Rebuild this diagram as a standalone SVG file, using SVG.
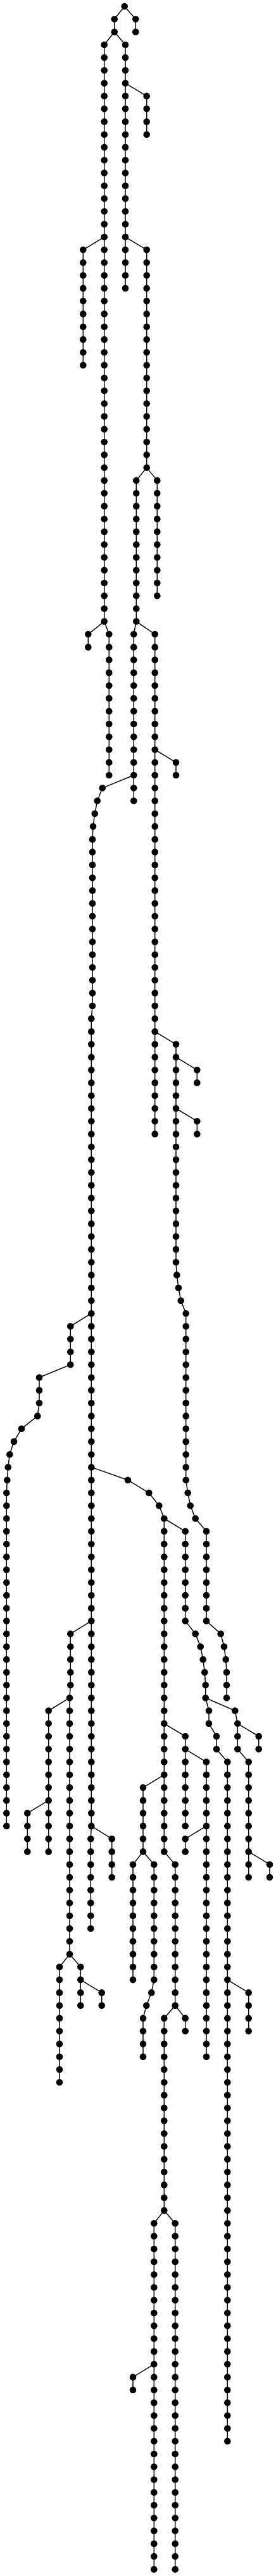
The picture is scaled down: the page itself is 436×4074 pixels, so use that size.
<svg xmlns="http://www.w3.org/2000/svg" width="436" height="4074" viewBox="0 0 436 4074">
<style>
rect.bg{fill:#fff}
.l path{fill:none;stroke:#000;stroke-width:1.5}
.n circle{fill:#000;r:5.3px}
</style>
<rect class="bg" x="0" y="0" width="436" height="4074"/>
<g id="connectors" class="l">
<path d="M196.7 10 L180.7 30.3 V50.5"/>
<path d="M196.7 10 L214.3 30.3 V50.5"/>
<path d="M180.7 50.5 L164.7 70.8 V982.8"/>
<path d="M180.7 50.5 L198 70.8 V455.9"/>
<path d="M198 131.6 L231.7 151.9 V212.7"/>
<path d="M164.7 374.8 L131.3 395.1 V577.5"/>
<path d="M198 374.8 L231.7 395.1 V739.6"/>
<path d="M231.7 739.6 L215.3 759.9 V982.8"/>
<path d="M231.7 739.6 L248.3 759.9 V942.3"/>
<path d="M164.7 982.8 L139.3 1003.1 V1023.4"/>
<path d="M164.7 982.8 L172.3 1003.1 V1226"/>
<path d="M215.3 982.8 L211.3 1003.1 V1266.6"/>
<path d="M215.3 982.8 L244.7 1003.1 V1793.5"/>
<path d="M244.7 1185.5 L278 1205.8 V1226"/>
<path d="M211.3 1226 L161.7 1246.3 L153.7 1266.6 L149.7 1286.8 L147 1307.1 L146 1327.4 V1590.8 L144.3 1611.1 V2887.9 L143.3 2908.2 V3050"/>
<path d="M244.7 1631.4 L278 1651.6 V1996.2 L279.3 2016.4 L282 2036.7 L285.7 2057 L293.7 2077.2 V2340.7 L296.7 2361 L300.7 2381.2 L308.7 2401.5 L326 2421.8 V2563.6 L348.7 2583.9 L354 2604.2 L356.7 2624.4 L358 2644.7 V2685.2"/>
<path d="M278 1671.9 L311.3 1692.2 V1712.4"/>
<path d="M278 1753 L311.3 1773.2 V1793.5"/>
<path d="M144.3 2077.2 L111.3 2097.5 V2158.3 L62 2178.6 V2219.1 L59.3 2239.4 L34 2259.6 L22 2279.9 L15.3 2300.2 L12.7 2320.4 L11.3 2340.7 L10.3 2361 V2887.9"/>
<path d="M144.3 2320.4 L202 2340.7 L235.3 2361 L251.3 2381.2 L259.3 2401.5 V2928.4 L276.7 2948.7 V3171.7"/>
<path d="M259.3 2401.5 L292.7 2421.8 V2563.6 L308.7 2583.9 L316.7 2604.2 L320.7 2624.4 L323.3 2644.7 L324.7 2665 V2685.2 L330 2705.5 V2725.8 L342 2746 V2766.3 L359.3 2786.6 V3860.7"/>
<path d="M324.7 2685.2 L371.3 2705.5 L375.3 2725.8 V2766.3 L392.7 2786.6 V2969"/>
<path d="M375.3 2725.8 L408.7 2746 V2766.3"/>
<path d="M392.7 2928.4 L426 2948.7 V2969"/>
<path d="M359.3 3131.1 L392.7 3151.4 V3212.2"/>
<path d="M259.3 2725.8 L292.7 2746 V2887.9"/>
<path d="M292.7 2766.3 L326 2786.6 V3252.7"/>
<path d="M326 2887.9 L292.7 2908.2 V2928.4"/>
<path d="M259.3 2806.8 L226 2827.1 V2928.4"/>
<path d="M226 2928.4 L210 2948.7 V3131.1"/>
<path d="M226 2928.4 L243.3 2948.7 V3131.1 L239.3 3151.4 L231.3 3171.7 L226 3191.9 V3252.7"/>
<path d="M276.7 3171.7 L259.3 3191.9 V3495.9"/>
<path d="M276.7 3171.7 L292.7 3191.9 V3212.2"/>
<path d="M259.3 3495.9 L243.3 3516.2 V4063.4"/>
<path d="M259.3 3495.9 L276.7 3516.2 V4063.4"/>
<path d="M243.3 3739.1 L210 3759.4 V3779.7"/>
<path d="M144.3 2563.6 L111.3 2583.9 V2665 L110 2685.2 V3090.6"/>
<path d="M110 2685.2 L76.7 2705.5 V2928.4"/>
<path d="M76.7 2847.4 L43.3 2867.6 V2928.4"/>
<path d="M110 3090.6 L94 3110.8 V3293.3"/>
<path d="M110 3090.6 L127.3 3110.8 V3171.7"/>
<path d="M127.3 3131.1 L160.7 3151.4 V3171.7"/>
<path d="M144.3 2887.9 L176.7 2908.2 V2969"/>
</g>
<g id="nodes" class="n">
<g id="R-0"><circle cx="196.7" cy="10"/></g>
<g id="A-1"><circle cx="180.7" cy="30.3"/></g>
<g id="A-2"><circle cx="180.7" cy="50.5"/></g>
<g id="B-1"><circle cx="214.3" cy="30.3"/></g>
<g id="B-2"><circle cx="214.3" cy="50.5"/></g>
<g id="L1-3"><circle cx="164.7" cy="70.8"/></g>
<g id="L1-4"><circle cx="164.7" cy="91.1"/></g>
<g id="L1-5"><circle cx="164.7" cy="111.3"/></g>
<g id="L1-6"><circle cx="164.7" cy="131.6"/></g>
<g id="L1-7"><circle cx="164.7" cy="151.9"/></g>
<g id="L1-8"><circle cx="164.7" cy="172.1"/></g>
<g id="L1-9"><circle cx="164.7" cy="192.4"/></g>
<g id="L1-10"><circle cx="164.7" cy="212.7"/></g>
<g id="L1-11"><circle cx="164.7" cy="232.9"/></g>
<g id="L1-12"><circle cx="164.7" cy="253.2"/></g>
<g id="L1-13"><circle cx="164.7" cy="273.5"/></g>
<g id="L1-14"><circle cx="164.7" cy="293.7"/></g>
<g id="L1-15"><circle cx="164.7" cy="314"/></g>
<g id="L1-16"><circle cx="164.7" cy="334.3"/></g>
<g id="L1-17"><circle cx="164.7" cy="354.5"/></g>
<g id="L1-18"><circle cx="164.7" cy="374.8"/></g>
<g id="L1-19"><circle cx="164.7" cy="395.1"/></g>
<g id="L1-20"><circle cx="164.7" cy="415.3"/></g>
<g id="L1-21"><circle cx="164.7" cy="435.6"/></g>
<g id="L1-22"><circle cx="164.7" cy="455.9"/></g>
<g id="L1-23"><circle cx="164.7" cy="476.1"/></g>
<g id="L1-24"><circle cx="164.7" cy="496.4"/></g>
<g id="L1-25"><circle cx="164.7" cy="516.7"/></g>
<g id="L1-26"><circle cx="164.7" cy="536.9"/></g>
<g id="L1-27"><circle cx="164.7" cy="557.2"/></g>
<g id="L1-28"><circle cx="164.7" cy="577.5"/></g>
<g id="L1-29"><circle cx="164.7" cy="597.7"/></g>
<g id="L1-30"><circle cx="164.7" cy="618"/></g>
<g id="L1-31"><circle cx="164.7" cy="638.3"/></g>
<g id="L1-32"><circle cx="164.7" cy="658.5"/></g>
<g id="L1-33"><circle cx="164.7" cy="678.8"/></g>
<g id="L1-34"><circle cx="164.7" cy="699.1"/></g>
<g id="L1-35"><circle cx="164.7" cy="719.3"/></g>
<g id="L1-36"><circle cx="164.7" cy="739.6"/></g>
<g id="L1-37"><circle cx="164.7" cy="759.9"/></g>
<g id="L1-38"><circle cx="164.7" cy="780.1"/></g>
<g id="L1-39"><circle cx="164.7" cy="800.4"/></g>
<g id="L1-40"><circle cx="164.7" cy="820.7"/></g>
<g id="L1-41"><circle cx="164.7" cy="840.9"/></g>
<g id="L1-42"><circle cx="164.7" cy="861.2"/></g>
<g id="L1-43"><circle cx="164.7" cy="881.5"/></g>
<g id="L1-44"><circle cx="164.7" cy="901.7"/></g>
<g id="L1-45"><circle cx="164.7" cy="922"/></g>
<g id="L1-46"><circle cx="164.7" cy="942.3"/></g>
<g id="L1-47"><circle cx="164.7" cy="962.5"/></g>
<g id="L1-48"><circle cx="164.7" cy="982.8"/></g>
<g id="C1-3"><circle cx="198" cy="70.8"/></g>
<g id="C1-4"><circle cx="198" cy="91.1"/></g>
<g id="C1-5"><circle cx="198" cy="111.3"/></g>
<g id="C1-6"><circle cx="198" cy="131.6"/></g>
<g id="C1-7"><circle cx="198" cy="151.9"/></g>
<g id="C1-8"><circle cx="198" cy="172.1"/></g>
<g id="C1-9"><circle cx="198" cy="192.4"/></g>
<g id="C1-10"><circle cx="198" cy="212.7"/></g>
<g id="C1-11"><circle cx="198" cy="232.9"/></g>
<g id="C1-12"><circle cx="198" cy="253.2"/></g>
<g id="C1-13"><circle cx="198" cy="273.5"/></g>
<g id="C1-14"><circle cx="198" cy="293.7"/></g>
<g id="C1-15"><circle cx="198" cy="314"/></g>
<g id="C1-16"><circle cx="198" cy="334.3"/></g>
<g id="C1-17"><circle cx="198" cy="354.5"/></g>
<g id="C1-18"><circle cx="198" cy="374.8"/></g>
<g id="C1-19"><circle cx="198" cy="395.1"/></g>
<g id="C1-20"><circle cx="198" cy="415.3"/></g>
<g id="C1-21"><circle cx="198" cy="435.6"/></g>
<g id="C1-22"><circle cx="198" cy="455.9"/></g>
<g id="C1a-7"><circle cx="231.7" cy="151.9"/></g>
<g id="C1a-8"><circle cx="231.7" cy="172.1"/></g>
<g id="C1a-9"><circle cx="231.7" cy="192.4"/></g>
<g id="C1a-10"><circle cx="231.7" cy="212.7"/></g>
<g id="L1a-19"><circle cx="131.3" cy="395.1"/></g>
<g id="L1a-20"><circle cx="131.3" cy="415.3"/></g>
<g id="L1a-21"><circle cx="131.3" cy="435.6"/></g>
<g id="L1a-22"><circle cx="131.3" cy="455.9"/></g>
<g id="L1a-23"><circle cx="131.3" cy="476.1"/></g>
<g id="L1a-24"><circle cx="131.3" cy="496.4"/></g>
<g id="L1a-25"><circle cx="131.3" cy="516.7"/></g>
<g id="L1a-26"><circle cx="131.3" cy="536.9"/></g>
<g id="L1a-27"><circle cx="131.3" cy="557.2"/></g>
<g id="L1a-28"><circle cx="131.3" cy="577.5"/></g>
<g id="C2-19"><circle cx="231.7" cy="395.1"/></g>
<g id="C2-20"><circle cx="231.7" cy="415.3"/></g>
<g id="C2-21"><circle cx="231.7" cy="435.6"/></g>
<g id="C2-22"><circle cx="231.7" cy="455.9"/></g>
<g id="C2-23"><circle cx="231.7" cy="476.1"/></g>
<g id="C2-24"><circle cx="231.7" cy="496.4"/></g>
<g id="C2-25"><circle cx="231.7" cy="516.7"/></g>
<g id="C2-26"><circle cx="231.7" cy="536.9"/></g>
<g id="C2-27"><circle cx="231.7" cy="557.2"/></g>
<g id="C2-28"><circle cx="231.7" cy="577.5"/></g>
<g id="C2-29"><circle cx="231.7" cy="597.7"/></g>
<g id="C2-30"><circle cx="231.7" cy="618"/></g>
<g id="C2-31"><circle cx="231.7" cy="638.3"/></g>
<g id="C2-32"><circle cx="231.7" cy="658.5"/></g>
<g id="C2-33"><circle cx="231.7" cy="678.8"/></g>
<g id="C2-34"><circle cx="231.7" cy="699.1"/></g>
<g id="C2-35"><circle cx="231.7" cy="719.3"/></g>
<g id="C2-36"><circle cx="231.7" cy="739.6"/></g>
<g id="D1-37"><circle cx="215.3" cy="759.9"/></g>
<g id="D1-38"><circle cx="215.3" cy="780.1"/></g>
<g id="D1-39"><circle cx="215.3" cy="800.4"/></g>
<g id="D1-40"><circle cx="215.3" cy="820.7"/></g>
<g id="D1-41"><circle cx="215.3" cy="840.9"/></g>
<g id="D1-42"><circle cx="215.3" cy="861.2"/></g>
<g id="D1-43"><circle cx="215.3" cy="881.5"/></g>
<g id="D1-44"><circle cx="215.3" cy="901.7"/></g>
<g id="D1-45"><circle cx="215.3" cy="922"/></g>
<g id="D1-46"><circle cx="215.3" cy="942.3"/></g>
<g id="D1-47"><circle cx="215.3" cy="962.5"/></g>
<g id="D1-48"><circle cx="215.3" cy="982.8"/></g>
<g id="D2-37"><circle cx="248.3" cy="759.9"/></g>
<g id="D2-38"><circle cx="248.3" cy="780.1"/></g>
<g id="D2-39"><circle cx="248.3" cy="800.4"/></g>
<g id="D2-40"><circle cx="248.3" cy="820.7"/></g>
<g id="D2-41"><circle cx="248.3" cy="840.9"/></g>
<g id="D2-42"><circle cx="248.3" cy="861.2"/></g>
<g id="D2-43"><circle cx="248.3" cy="881.5"/></g>
<g id="D2-44"><circle cx="248.3" cy="901.7"/></g>
<g id="D2-45"><circle cx="248.3" cy="922"/></g>
<g id="D2-46"><circle cx="248.3" cy="942.3"/></g>
<g id="E1-49"><circle cx="139.3" cy="1003.1"/></g>
<g id="E1-50"><circle cx="139.3" cy="1023.4"/></g>
<g id="E2-49"><circle cx="172.3" cy="1003.1"/></g>
<g id="E2-50"><circle cx="172.3" cy="1023.4"/></g>
<g id="E2-51"><circle cx="172.3" cy="1043.6"/></g>
<g id="E2-52"><circle cx="172.3" cy="1063.9"/></g>
<g id="E2-53"><circle cx="172.3" cy="1084.2"/></g>
<g id="E2-54"><circle cx="172.3" cy="1104.4"/></g>
<g id="E2-55"><circle cx="172.3" cy="1124.7"/></g>
<g id="E2-56"><circle cx="172.3" cy="1145"/></g>
<g id="E2-57"><circle cx="172.3" cy="1165.2"/></g>
<g id="E2-58"><circle cx="172.3" cy="1185.5"/></g>
<g id="E2-59"><circle cx="172.3" cy="1205.8"/></g>
<g id="E2-60"><circle cx="172.3" cy="1226"/></g>
<g id="F1-49"><circle cx="211.3" cy="1003.1"/></g>
<g id="F1-50"><circle cx="211.3" cy="1023.4"/></g>
<g id="F1-51"><circle cx="211.3" cy="1043.6"/></g>
<g id="F1-52"><circle cx="211.3" cy="1063.9"/></g>
<g id="F1-53"><circle cx="211.3" cy="1084.2"/></g>
<g id="F1-54"><circle cx="211.3" cy="1104.4"/></g>
<g id="F1-55"><circle cx="211.3" cy="1124.7"/></g>
<g id="F1-56"><circle cx="211.3" cy="1145"/></g>
<g id="F1-57"><circle cx="211.3" cy="1165.2"/></g>
<g id="F1-58"><circle cx="211.3" cy="1185.5"/></g>
<g id="F1-59"><circle cx="211.3" cy="1205.8"/></g>
<g id="F1-60"><circle cx="211.3" cy="1226"/></g>
<g id="F1-61"><circle cx="211.3" cy="1246.3"/></g>
<g id="F1-62"><circle cx="211.3" cy="1266.6"/></g>
<g id="F2-49"><circle cx="244.7" cy="1003.1"/></g>
<g id="F2-50"><circle cx="244.7" cy="1023.4"/></g>
<g id="F2-51"><circle cx="244.7" cy="1043.6"/></g>
<g id="F2-52"><circle cx="244.7" cy="1063.9"/></g>
<g id="F2-53"><circle cx="244.7" cy="1084.2"/></g>
<g id="F2-54"><circle cx="244.7" cy="1104.4"/></g>
<g id="F2-55"><circle cx="244.7" cy="1124.7"/></g>
<g id="F2-56"><circle cx="244.7" cy="1145"/></g>
<g id="F2-57"><circle cx="244.7" cy="1165.2"/></g>
<g id="F2-58"><circle cx="244.7" cy="1185.5"/></g>
<g id="F2-59"><circle cx="244.7" cy="1205.8"/></g>
<g id="F2-60"><circle cx="244.7" cy="1226"/></g>
<g id="F2-61"><circle cx="244.7" cy="1246.3"/></g>
<g id="F2-62"><circle cx="244.7" cy="1266.6"/></g>
<g id="F2-63"><circle cx="244.7" cy="1286.8"/></g>
<g id="F2-64"><circle cx="244.7" cy="1307.1"/></g>
<g id="F2-65"><circle cx="244.7" cy="1327.4"/></g>
<g id="F2-66"><circle cx="244.7" cy="1347.6"/></g>
<g id="F2-67"><circle cx="244.7" cy="1367.9"/></g>
<g id="F2-68"><circle cx="244.7" cy="1388.2"/></g>
<g id="F2-69"><circle cx="244.7" cy="1408.4"/></g>
<g id="F2-70"><circle cx="244.7" cy="1428.7"/></g>
<g id="F2-71"><circle cx="244.7" cy="1449"/></g>
<g id="F2-72"><circle cx="244.7" cy="1469.2"/></g>
<g id="F2-73"><circle cx="244.7" cy="1489.5"/></g>
<g id="F2-74"><circle cx="244.7" cy="1509.8"/></g>
<g id="F2-75"><circle cx="244.7" cy="1530"/></g>
<g id="F2-76"><circle cx="244.7" cy="1550.3"/></g>
<g id="F2-77"><circle cx="244.7" cy="1570.6"/></g>
<g id="F2-78"><circle cx="244.7" cy="1590.8"/></g>
<g id="F2-79"><circle cx="244.7" cy="1611.1"/></g>
<g id="F2-80"><circle cx="244.7" cy="1631.4"/></g>
<g id="F2-81"><circle cx="244.7" cy="1651.6"/></g>
<g id="F2-82"><circle cx="244.7" cy="1671.9"/></g>
<g id="F2-83"><circle cx="244.7" cy="1692.2"/></g>
<g id="F2-84"><circle cx="244.7" cy="1712.4"/></g>
<g id="F2-85"><circle cx="244.7" cy="1732.7"/></g>
<g id="F2-86"><circle cx="244.7" cy="1753"/></g>
<g id="F2-87"><circle cx="244.7" cy="1773.2"/></g>
<g id="F2-88"><circle cx="244.7" cy="1793.5"/></g>
<g id="F2a-59"><circle cx="278" cy="1205.8"/></g>
<g id="F2a-60"><circle cx="278" cy="1226"/></g>
<g id="G-61"><circle cx="161.7" cy="1246.3"/></g>
<g id="G-62"><circle cx="153.7" cy="1266.6"/></g>
<g id="G-63"><circle cx="149.7" cy="1286.8"/></g>
<g id="G-64"><circle cx="147" cy="1307.1"/></g>
<g id="G-65"><circle cx="146" cy="1327.4"/></g>
<g id="G-66"><circle cx="146" cy="1347.6"/></g>
<g id="G-67"><circle cx="146" cy="1367.9"/></g>
<g id="G-68"><circle cx="146" cy="1388.2"/></g>
<g id="G-69"><circle cx="146" cy="1408.4"/></g>
<g id="G-70"><circle cx="146" cy="1428.7"/></g>
<g id="G-71"><circle cx="146" cy="1449"/></g>
<g id="G-72"><circle cx="146" cy="1469.2"/></g>
<g id="G-73"><circle cx="146" cy="1489.5"/></g>
<g id="G-74"><circle cx="146" cy="1509.8"/></g>
<g id="G-75"><circle cx="146" cy="1530"/></g>
<g id="G-76"><circle cx="146" cy="1550.3"/></g>
<g id="G-77"><circle cx="146" cy="1570.6"/></g>
<g id="G-78"><circle cx="146" cy="1590.8"/></g>
<g id="G-79"><circle cx="144.3" cy="1611.1"/></g>
<g id="G-80"><circle cx="144.3" cy="1631.4"/></g>
<g id="G-81"><circle cx="144.3" cy="1651.6"/></g>
<g id="G-82"><circle cx="144.3" cy="1671.9"/></g>
<g id="G-83"><circle cx="144.3" cy="1692.2"/></g>
<g id="G-84"><circle cx="144.3" cy="1712.4"/></g>
<g id="G-85"><circle cx="144.3" cy="1732.7"/></g>
<g id="G-86"><circle cx="144.3" cy="1753"/></g>
<g id="G-87"><circle cx="144.3" cy="1773.2"/></g>
<g id="G-88"><circle cx="144.3" cy="1793.5"/></g>
<g id="G-89"><circle cx="144.3" cy="1813.8"/></g>
<g id="G-90"><circle cx="144.3" cy="1834"/></g>
<g id="G-91"><circle cx="144.3" cy="1854.3"/></g>
<g id="G-92"><circle cx="144.3" cy="1874.6"/></g>
<g id="G-93"><circle cx="144.3" cy="1894.8"/></g>
<g id="G-94"><circle cx="144.3" cy="1915.1"/></g>
<g id="G-95"><circle cx="144.3" cy="1935.4"/></g>
<g id="G-96"><circle cx="144.3" cy="1955.6"/></g>
<g id="G-97"><circle cx="144.3" cy="1975.9"/></g>
<g id="G-98"><circle cx="144.3" cy="1996.2"/></g>
<g id="G-99"><circle cx="144.3" cy="2016.4"/></g>
<g id="G-100"><circle cx="144.3" cy="2036.7"/></g>
<g id="G-101"><circle cx="144.3" cy="2057"/></g>
<g id="G-102"><circle cx="144.3" cy="2077.2"/></g>
<g id="G-103"><circle cx="144.3" cy="2097.5"/></g>
<g id="G-104"><circle cx="144.3" cy="2117.8"/></g>
<g id="G-105"><circle cx="144.3" cy="2138"/></g>
<g id="G-106"><circle cx="144.3" cy="2158.3"/></g>
<g id="G-107"><circle cx="144.3" cy="2178.6"/></g>
<g id="G-108"><circle cx="144.3" cy="2198.8"/></g>
<g id="G-109"><circle cx="144.3" cy="2219.1"/></g>
<g id="G-110"><circle cx="144.3" cy="2239.4"/></g>
<g id="G-111"><circle cx="144.3" cy="2259.6"/></g>
<g id="G-112"><circle cx="144.3" cy="2279.9"/></g>
<g id="G-113"><circle cx="144.3" cy="2300.2"/></g>
<g id="G-114"><circle cx="144.3" cy="2320.4"/></g>
<g id="G-115"><circle cx="144.3" cy="2340.7"/></g>
<g id="G-116"><circle cx="144.3" cy="2361"/></g>
<g id="G-117"><circle cx="144.3" cy="2381.2"/></g>
<g id="G-118"><circle cx="144.3" cy="2401.5"/></g>
<g id="G-119"><circle cx="144.3" cy="2421.8"/></g>
<g id="G-120"><circle cx="144.3" cy="2442"/></g>
<g id="G-121"><circle cx="144.3" cy="2462.3"/></g>
<g id="G-122"><circle cx="144.3" cy="2482.6"/></g>
<g id="G-123"><circle cx="144.3" cy="2502.8"/></g>
<g id="G-124"><circle cx="144.3" cy="2523.1"/></g>
<g id="G-125"><circle cx="144.3" cy="2543.4"/></g>
<g id="G-126"><circle cx="144.3" cy="2563.6"/></g>
<g id="G-127"><circle cx="144.3" cy="2583.9"/></g>
<g id="G-128"><circle cx="144.3" cy="2604.2"/></g>
<g id="G-129"><circle cx="144.3" cy="2624.4"/></g>
<g id="G-130"><circle cx="144.3" cy="2644.7"/></g>
<g id="G-131"><circle cx="144.3" cy="2665"/></g>
<g id="G-132"><circle cx="144.3" cy="2685.2"/></g>
<g id="G-133"><circle cx="144.3" cy="2705.5"/></g>
<g id="G-134"><circle cx="144.3" cy="2725.8"/></g>
<g id="G-135"><circle cx="144.3" cy="2746"/></g>
<g id="G-136"><circle cx="144.3" cy="2766.3"/></g>
<g id="G-137"><circle cx="144.3" cy="2786.6"/></g>
<g id="G-138"><circle cx="144.3" cy="2806.8"/></g>
<g id="G-139"><circle cx="144.3" cy="2827.1"/></g>
<g id="G-140"><circle cx="144.3" cy="2847.4"/></g>
<g id="G-141"><circle cx="144.3" cy="2867.6"/></g>
<g id="G-142"><circle cx="144.3" cy="2887.9"/></g>
<g id="G-143"><circle cx="143.3" cy="2908.2"/></g>
<g id="G-144"><circle cx="143.3" cy="2928.4"/></g>
<g id="G-145"><circle cx="143.3" cy="2948.7"/></g>
<g id="G-146"><circle cx="143.3" cy="2969"/></g>
<g id="G-147"><circle cx="143.3" cy="2989.2"/></g>
<g id="G-148"><circle cx="143.3" cy="3009.5"/></g>
<g id="G-149"><circle cx="143.3" cy="3029.8"/></g>
<g id="G-150"><circle cx="143.3" cy="3050"/></g>
<g id="F2b-81"><circle cx="278" cy="1651.6"/></g>
<g id="F2b-82"><circle cx="278" cy="1671.9"/></g>
<g id="F2b-83"><circle cx="278" cy="1692.2"/></g>
<g id="F2b-84"><circle cx="278" cy="1712.4"/></g>
<g id="F2b-85"><circle cx="278" cy="1732.7"/></g>
<g id="F2b-86"><circle cx="278" cy="1753"/></g>
<g id="F2b-87"><circle cx="278" cy="1773.2"/></g>
<g id="F2b-88"><circle cx="278" cy="1793.5"/></g>
<g id="F2b-89"><circle cx="278" cy="1813.8"/></g>
<g id="F2b-90"><circle cx="278" cy="1834"/></g>
<g id="F2b-91"><circle cx="278" cy="1854.3"/></g>
<g id="F2b-92"><circle cx="278" cy="1874.6"/></g>
<g id="F2b-93"><circle cx="278" cy="1894.8"/></g>
<g id="F2b-94"><circle cx="278" cy="1915.1"/></g>
<g id="F2b-95"><circle cx="278" cy="1935.4"/></g>
<g id="F2b-96"><circle cx="278" cy="1955.6"/></g>
<g id="F2b-97"><circle cx="278" cy="1975.9"/></g>
<g id="F2b-98"><circle cx="278" cy="1996.2"/></g>
<g id="F2b-99"><circle cx="279.3" cy="2016.4"/></g>
<g id="F2b-100"><circle cx="282" cy="2036.7"/></g>
<g id="F2b-101"><circle cx="285.7" cy="2057"/></g>
<g id="F2b-102"><circle cx="293.7" cy="2077.2"/></g>
<g id="F2b-103"><circle cx="293.7" cy="2097.5"/></g>
<g id="F2b-104"><circle cx="293.7" cy="2117.8"/></g>
<g id="F2b-105"><circle cx="293.7" cy="2138"/></g>
<g id="F2b-106"><circle cx="293.7" cy="2158.3"/></g>
<g id="F2b-107"><circle cx="293.7" cy="2178.6"/></g>
<g id="F2b-108"><circle cx="293.7" cy="2198.8"/></g>
<g id="F2b-109"><circle cx="293.7" cy="2219.1"/></g>
<g id="F2b-110"><circle cx="293.7" cy="2239.4"/></g>
<g id="F2b-111"><circle cx="293.7" cy="2259.6"/></g>
<g id="F2b-112"><circle cx="293.7" cy="2279.9"/></g>
<g id="F2b-113"><circle cx="293.7" cy="2300.2"/></g>
<g id="F2b-114"><circle cx="293.7" cy="2320.4"/></g>
<g id="F2b-115"><circle cx="293.7" cy="2340.7"/></g>
<g id="F2b-116"><circle cx="296.7" cy="2361"/></g>
<g id="F2b-117"><circle cx="300.7" cy="2381.2"/></g>
<g id="F2b-118"><circle cx="308.7" cy="2401.5"/></g>
<g id="F2b-119"><circle cx="326" cy="2421.8"/></g>
<g id="F2b-120"><circle cx="326" cy="2442"/></g>
<g id="F2b-121"><circle cx="326" cy="2462.3"/></g>
<g id="F2b-122"><circle cx="326" cy="2482.6"/></g>
<g id="F2b-123"><circle cx="326" cy="2502.8"/></g>
<g id="F2b-124"><circle cx="326" cy="2523.1"/></g>
<g id="F2b-125"><circle cx="326" cy="2543.4"/></g>
<g id="F2b-126"><circle cx="326" cy="2563.6"/></g>
<g id="F2b-127"><circle cx="348.7" cy="2583.9"/></g>
<g id="F2b-128"><circle cx="354" cy="2604.2"/></g>
<g id="F2b-129"><circle cx="356.7" cy="2624.4"/></g>
<g id="F2b-130"><circle cx="358" cy="2644.7"/></g>
<g id="F2b-131"><circle cx="358" cy="2665"/></g>
<g id="F2b-132"><circle cx="358" cy="2685.2"/></g>
<g id="F2c-83"><circle cx="311.3" cy="1692.2"/></g>
<g id="F2c-84"><circle cx="311.3" cy="1712.4"/></g>
<g id="F2d-87"><circle cx="311.3" cy="1773.2"/></g>
<g id="F2d-88"><circle cx="311.3" cy="1793.5"/></g>
<g id="H-103"><circle cx="111.3" cy="2097.5"/></g>
<g id="H-104"><circle cx="111.3" cy="2117.8"/></g>
<g id="H-105"><circle cx="111.3" cy="2138"/></g>
<g id="H-106"><circle cx="111.3" cy="2158.3"/></g>
<g id="H-107"><circle cx="62" cy="2178.6"/></g>
<g id="H-108"><circle cx="62" cy="2198.8"/></g>
<g id="H-109"><circle cx="62" cy="2219.1"/></g>
<g id="H-110"><circle cx="59.3" cy="2239.4"/></g>
<g id="H-111"><circle cx="34" cy="2259.6"/></g>
<g id="H-112"><circle cx="22" cy="2279.9"/></g>
<g id="H-113"><circle cx="15.3" cy="2300.2"/></g>
<g id="H-114"><circle cx="12.7" cy="2320.4"/></g>
<g id="H-115"><circle cx="11.3" cy="2340.7"/></g>
<g id="H-116"><circle cx="10.3" cy="2361"/></g>
<g id="H-117"><circle cx="10.3" cy="2381.2"/></g>
<g id="H-118"><circle cx="10.3" cy="2401.5"/></g>
<g id="H-119"><circle cx="10.3" cy="2421.8"/></g>
<g id="H-120"><circle cx="10.3" cy="2442"/></g>
<g id="H-121"><circle cx="10.3" cy="2462.3"/></g>
<g id="H-122"><circle cx="10.3" cy="2482.6"/></g>
<g id="H-123"><circle cx="10.3" cy="2502.8"/></g>
<g id="H-124"><circle cx="10.3" cy="2523.1"/></g>
<g id="H-125"><circle cx="10.3" cy="2543.4"/></g>
<g id="H-126"><circle cx="10.3" cy="2563.6"/></g>
<g id="H-127"><circle cx="10.3" cy="2583.9"/></g>
<g id="H-128"><circle cx="10.3" cy="2604.2"/></g>
<g id="H-129"><circle cx="10.3" cy="2624.4"/></g>
<g id="H-130"><circle cx="10.3" cy="2644.7"/></g>
<g id="H-131"><circle cx="10.3" cy="2665"/></g>
<g id="H-132"><circle cx="10.3" cy="2685.2"/></g>
<g id="H-133"><circle cx="10.3" cy="2705.5"/></g>
<g id="H-134"><circle cx="10.3" cy="2725.8"/></g>
<g id="H-135"><circle cx="10.3" cy="2746"/></g>
<g id="H-136"><circle cx="10.3" cy="2766.3"/></g>
<g id="H-137"><circle cx="10.3" cy="2786.6"/></g>
<g id="H-138"><circle cx="10.3" cy="2806.8"/></g>
<g id="H-139"><circle cx="10.3" cy="2827.1"/></g>
<g id="H-140"><circle cx="10.3" cy="2847.4"/></g>
<g id="H-141"><circle cx="10.3" cy="2867.6"/></g>
<g id="H-142"><circle cx="10.3" cy="2887.9"/></g>
<g id="I-115"><circle cx="202" cy="2340.7"/></g>
<g id="I-116"><circle cx="235.3" cy="2361"/></g>
<g id="I-117"><circle cx="251.3" cy="2381.2"/></g>
<g id="I-118"><circle cx="259.3" cy="2401.5"/></g>
<g id="I-119"><circle cx="259.3" cy="2421.8"/></g>
<g id="I-120"><circle cx="259.3" cy="2442"/></g>
<g id="I-121"><circle cx="259.3" cy="2462.3"/></g>
<g id="I-122"><circle cx="259.3" cy="2482.6"/></g>
<g id="I-123"><circle cx="259.3" cy="2502.8"/></g>
<g id="I-124"><circle cx="259.3" cy="2523.1"/></g>
<g id="I-125"><circle cx="259.3" cy="2543.4"/></g>
<g id="I-126"><circle cx="259.3" cy="2563.6"/></g>
<g id="I-127"><circle cx="259.3" cy="2583.9"/></g>
<g id="I-128"><circle cx="259.3" cy="2604.2"/></g>
<g id="I-129"><circle cx="259.3" cy="2624.4"/></g>
<g id="I-130"><circle cx="259.3" cy="2644.7"/></g>
<g id="I-131"><circle cx="259.3" cy="2665"/></g>
<g id="I-132"><circle cx="259.3" cy="2685.2"/></g>
<g id="I-133"><circle cx="259.3" cy="2705.5"/></g>
<g id="I-134"><circle cx="259.3" cy="2725.8"/></g>
<g id="I-135"><circle cx="259.3" cy="2746"/></g>
<g id="I-136"><circle cx="259.3" cy="2766.3"/></g>
<g id="I-137"><circle cx="259.3" cy="2786.6"/></g>
<g id="I-138"><circle cx="259.3" cy="2806.8"/></g>
<g id="I-139"><circle cx="259.3" cy="2827.1"/></g>
<g id="I-140"><circle cx="259.3" cy="2847.4"/></g>
<g id="I-141"><circle cx="259.3" cy="2867.6"/></g>
<g id="I-142"><circle cx="259.3" cy="2887.9"/></g>
<g id="I-143"><circle cx="259.3" cy="2908.2"/></g>
<g id="I-144"><circle cx="259.3" cy="2928.4"/></g>
<g id="I-145"><circle cx="276.7" cy="2948.7"/></g>
<g id="I-146"><circle cx="276.7" cy="2969"/></g>
<g id="I-147"><circle cx="276.7" cy="2989.2"/></g>
<g id="I-148"><circle cx="276.7" cy="3009.5"/></g>
<g id="I-149"><circle cx="276.7" cy="3029.8"/></g>
<g id="I-150"><circle cx="276.7" cy="3050"/></g>
<g id="I-151"><circle cx="276.7" cy="3070.3"/></g>
<g id="I-152"><circle cx="276.7" cy="3090.6"/></g>
<g id="I-153"><circle cx="276.7" cy="3110.8"/></g>
<g id="I-154"><circle cx="276.7" cy="3131.1"/></g>
<g id="I-155"><circle cx="276.7" cy="3151.4"/></g>
<g id="I-156"><circle cx="276.7" cy="3171.7"/></g>
<g id="I1-119"><circle cx="292.7" cy="2421.8"/></g>
<g id="I1-120"><circle cx="292.7" cy="2442"/></g>
<g id="I1-121"><circle cx="292.7" cy="2462.3"/></g>
<g id="I1-122"><circle cx="292.7" cy="2482.6"/></g>
<g id="I1-123"><circle cx="292.7" cy="2502.8"/></g>
<g id="I1-124"><circle cx="292.7" cy="2523.1"/></g>
<g id="I1-125"><circle cx="292.7" cy="2543.4"/></g>
<g id="I1-126"><circle cx="292.7" cy="2563.6"/></g>
<g id="I1-127"><circle cx="308.7" cy="2583.9"/></g>
<g id="I1-128"><circle cx="316.7" cy="2604.2"/></g>
<g id="I1-129"><circle cx="320.7" cy="2624.4"/></g>
<g id="I1-130"><circle cx="323.3" cy="2644.7"/></g>
<g id="I1-131"><circle cx="324.7" cy="2665"/></g>
<g id="I1-132"><circle cx="324.7" cy="2685.2"/></g>
<g id="I1-133"><circle cx="330" cy="2705.5"/></g>
<g id="I1-134"><circle cx="330" cy="2725.8"/></g>
<g id="I1-135"><circle cx="342" cy="2746"/></g>
<g id="I1-136"><circle cx="342" cy="2766.3"/></g>
<g id="I1-137"><circle cx="359.3" cy="2786.6"/></g>
<g id="I1-138"><circle cx="359.3" cy="2806.8"/></g>
<g id="I1-139"><circle cx="359.3" cy="2827.1"/></g>
<g id="I1-140"><circle cx="359.3" cy="2847.4"/></g>
<g id="I1-141"><circle cx="359.3" cy="2867.6"/></g>
<g id="I1-142"><circle cx="359.3" cy="2887.9"/></g>
<g id="I1-143"><circle cx="359.3" cy="2908.2"/></g>
<g id="I1-144"><circle cx="359.3" cy="2928.4"/></g>
<g id="I1-145"><circle cx="359.3" cy="2948.7"/></g>
<g id="I1-146"><circle cx="359.3" cy="2969"/></g>
<g id="I1-147"><circle cx="359.3" cy="2989.2"/></g>
<g id="I1-148"><circle cx="359.3" cy="3009.5"/></g>
<g id="I1-149"><circle cx="359.3" cy="3029.8"/></g>
<g id="I1-150"><circle cx="359.3" cy="3050"/></g>
<g id="I1-151"><circle cx="359.3" cy="3070.3"/></g>
<g id="I1-152"><circle cx="359.3" cy="3090.6"/></g>
<g id="I1-153"><circle cx="359.3" cy="3110.8"/></g>
<g id="I1-154"><circle cx="359.3" cy="3131.1"/></g>
<g id="I1-155"><circle cx="359.3" cy="3151.4"/></g>
<g id="I1-156"><circle cx="359.3" cy="3171.7"/></g>
<g id="I1-157"><circle cx="359.3" cy="3191.9"/></g>
<g id="I1-158"><circle cx="359.3" cy="3212.2"/></g>
<g id="I1-159"><circle cx="359.3" cy="3232.5"/></g>
<g id="I1-160"><circle cx="359.3" cy="3252.7"/></g>
<g id="I1-161"><circle cx="359.3" cy="3273"/></g>
<g id="I1-162"><circle cx="359.3" cy="3293.3"/></g>
<g id="I1-163"><circle cx="359.3" cy="3313.5"/></g>
<g id="I1-164"><circle cx="359.3" cy="3333.8"/></g>
<g id="I1-165"><circle cx="359.3" cy="3354.1"/></g>
<g id="I1-166"><circle cx="359.3" cy="3374.3"/></g>
<g id="I1-167"><circle cx="359.3" cy="3394.6"/></g>
<g id="I1-168"><circle cx="359.3" cy="3414.9"/></g>
<g id="I1-169"><circle cx="359.3" cy="3435.1"/></g>
<g id="I1-170"><circle cx="359.3" cy="3455.4"/></g>
<g id="I1-171"><circle cx="359.3" cy="3475.7"/></g>
<g id="I1-172"><circle cx="359.3" cy="3495.9"/></g>
<g id="I1-173"><circle cx="359.3" cy="3516.2"/></g>
<g id="I1-174"><circle cx="359.3" cy="3536.5"/></g>
<g id="I1-175"><circle cx="359.3" cy="3556.7"/></g>
<g id="I1-176"><circle cx="359.3" cy="3577"/></g>
<g id="I1-177"><circle cx="359.3" cy="3597.3"/></g>
<g id="I1-178"><circle cx="359.3" cy="3617.5"/></g>
<g id="I1-179"><circle cx="359.3" cy="3637.8"/></g>
<g id="I1-180"><circle cx="359.3" cy="3658.1"/></g>
<g id="I1-181"><circle cx="359.3" cy="3678.3"/></g>
<g id="I1-182"><circle cx="359.3" cy="3698.6"/></g>
<g id="I1-183"><circle cx="359.3" cy="3718.9"/></g>
<g id="I1-184"><circle cx="359.3" cy="3739.1"/></g>
<g id="I1-185"><circle cx="359.3" cy="3759.4"/></g>
<g id="I1-186"><circle cx="359.3" cy="3779.7"/></g>
<g id="I1-187"><circle cx="359.3" cy="3799.9"/></g>
<g id="I1-188"><circle cx="359.3" cy="3820.2"/></g>
<g id="I1-189"><circle cx="359.3" cy="3840.5"/></g>
<g id="I1-190"><circle cx="359.3" cy="3860.7"/></g>
<g id="I1b-133"><circle cx="371.3" cy="2705.5"/></g>
<g id="I1b-134"><circle cx="375.3" cy="2725.8"/></g>
<g id="I1b-135"><circle cx="375.3" cy="2746"/></g>
<g id="I1b-136"><circle cx="375.3" cy="2766.3"/></g>
<g id="I1b-137"><circle cx="392.7" cy="2786.6"/></g>
<g id="I1b-138"><circle cx="392.7" cy="2806.8"/></g>
<g id="I1b-139"><circle cx="392.7" cy="2827.1"/></g>
<g id="I1b-140"><circle cx="392.7" cy="2847.4"/></g>
<g id="I1b-141"><circle cx="392.7" cy="2867.6"/></g>
<g id="I1b-142"><circle cx="392.7" cy="2887.9"/></g>
<g id="I1b-143"><circle cx="392.7" cy="2908.2"/></g>
<g id="I1b-144"><circle cx="392.7" cy="2928.4"/></g>
<g id="I1b-145"><circle cx="392.7" cy="2948.7"/></g>
<g id="I1b-146"><circle cx="392.7" cy="2969"/></g>
<g id="I1b1-135"><circle cx="408.7" cy="2746"/></g>
<g id="I1b1-136"><circle cx="408.7" cy="2766.3"/></g>
<g id="I1b2-145"><circle cx="426" cy="2948.7"/></g>
<g id="I1b2-146"><circle cx="426" cy="2969"/></g>
<g id="I1c-155"><circle cx="392.7" cy="3151.4"/></g>
<g id="I1c-156"><circle cx="392.7" cy="3171.7"/></g>
<g id="I1c-157"><circle cx="392.7" cy="3191.9"/></g>
<g id="I1c-158"><circle cx="392.7" cy="3212.2"/></g>
<g id="I2-135"><circle cx="292.7" cy="2746"/></g>
<g id="I2-136"><circle cx="292.7" cy="2766.3"/></g>
<g id="I2-137"><circle cx="292.7" cy="2786.6"/></g>
<g id="I2-138"><circle cx="292.7" cy="2806.8"/></g>
<g id="I2-139"><circle cx="292.7" cy="2827.1"/></g>
<g id="I2-140"><circle cx="292.7" cy="2847.4"/></g>
<g id="I2-141"><circle cx="292.7" cy="2867.6"/></g>
<g id="I2-142"><circle cx="292.7" cy="2887.9"/></g>
<g id="I2a-137"><circle cx="326" cy="2786.6"/></g>
<g id="I2a-138"><circle cx="326" cy="2806.8"/></g>
<g id="I2a-139"><circle cx="326" cy="2827.1"/></g>
<g id="I2a-140"><circle cx="326" cy="2847.4"/></g>
<g id="I2a-141"><circle cx="326" cy="2867.6"/></g>
<g id="I2a-142"><circle cx="326" cy="2887.9"/></g>
<g id="I2a-143"><circle cx="326" cy="2908.2"/></g>
<g id="I2a-144"><circle cx="326" cy="2928.4"/></g>
<g id="I2a-145"><circle cx="326" cy="2948.7"/></g>
<g id="I2a-146"><circle cx="326" cy="2969"/></g>
<g id="I2a-147"><circle cx="326" cy="2989.2"/></g>
<g id="I2a-148"><circle cx="326" cy="3009.5"/></g>
<g id="I2a-149"><circle cx="326" cy="3029.8"/></g>
<g id="I2a-150"><circle cx="326" cy="3050"/></g>
<g id="I2a-151"><circle cx="326" cy="3070.3"/></g>
<g id="I2a-152"><circle cx="326" cy="3090.6"/></g>
<g id="I2a-153"><circle cx="326" cy="3110.8"/></g>
<g id="I2a-154"><circle cx="326" cy="3131.1"/></g>
<g id="I2a-155"><circle cx="326" cy="3151.4"/></g>
<g id="I2a-156"><circle cx="326" cy="3171.7"/></g>
<g id="I2a-157"><circle cx="326" cy="3191.9"/></g>
<g id="I2a-158"><circle cx="326" cy="3212.2"/></g>
<g id="I2a-159"><circle cx="326" cy="3232.5"/></g>
<g id="I2a-160"><circle cx="326" cy="3252.7"/></g>
<g id="I2b-143"><circle cx="292.7" cy="2908.2"/></g>
<g id="I2b-144"><circle cx="292.7" cy="2928.4"/></g>
<g id="I3-139"><circle cx="226" cy="2827.1"/></g>
<g id="I3-140"><circle cx="226" cy="2847.4"/></g>
<g id="I3-141"><circle cx="226" cy="2867.6"/></g>
<g id="I3-142"><circle cx="226" cy="2887.9"/></g>
<g id="I3-143"><circle cx="226" cy="2908.2"/></g>
<g id="I3-144"><circle cx="226" cy="2928.4"/></g>
<g id="I3a-145"><circle cx="210" cy="2948.7"/></g>
<g id="I3a-146"><circle cx="210" cy="2969"/></g>
<g id="I3a-147"><circle cx="210" cy="2989.2"/></g>
<g id="I3a-148"><circle cx="210" cy="3009.5"/></g>
<g id="I3a-149"><circle cx="210" cy="3029.8"/></g>
<g id="I3a-150"><circle cx="210" cy="3050"/></g>
<g id="I3a-151"><circle cx="210" cy="3070.3"/></g>
<g id="I3a-152"><circle cx="210" cy="3090.6"/></g>
<g id="I3a-153"><circle cx="210" cy="3110.8"/></g>
<g id="I3a-154"><circle cx="210" cy="3131.1"/></g>
<g id="I3b-145"><circle cx="243.3" cy="2948.7"/></g>
<g id="I3b-146"><circle cx="243.3" cy="2969"/></g>
<g id="I3b-147"><circle cx="243.3" cy="2989.2"/></g>
<g id="I3b-148"><circle cx="243.3" cy="3009.5"/></g>
<g id="I3b-149"><circle cx="243.3" cy="3029.8"/></g>
<g id="I3b-150"><circle cx="243.3" cy="3050"/></g>
<g id="I3b-151"><circle cx="243.3" cy="3070.3"/></g>
<g id="I3b-152"><circle cx="243.3" cy="3090.6"/></g>
<g id="I3b-153"><circle cx="243.3" cy="3110.8"/></g>
<g id="I3b-154"><circle cx="243.3" cy="3131.1"/></g>
<g id="I3b-155"><circle cx="239.3" cy="3151.4"/></g>
<g id="I3b-156"><circle cx="231.3" cy="3171.7"/></g>
<g id="I3b-157"><circle cx="226" cy="3191.9"/></g>
<g id="I3b-158"><circle cx="226" cy="3212.2"/></g>
<g id="I3b-159"><circle cx="226" cy="3232.5"/></g>
<g id="I3b-160"><circle cx="226" cy="3252.7"/></g>
<g id="I4-157"><circle cx="259.3" cy="3191.9"/></g>
<g id="I4-158"><circle cx="259.3" cy="3212.2"/></g>
<g id="I4-159"><circle cx="259.3" cy="3232.5"/></g>
<g id="I4-160"><circle cx="259.3" cy="3252.7"/></g>
<g id="I4-161"><circle cx="259.3" cy="3273"/></g>
<g id="I4-162"><circle cx="259.3" cy="3293.3"/></g>
<g id="I4-163"><circle cx="259.3" cy="3313.5"/></g>
<g id="I4-164"><circle cx="259.3" cy="3333.8"/></g>
<g id="I4-165"><circle cx="259.3" cy="3354.1"/></g>
<g id="I4-166"><circle cx="259.3" cy="3374.3"/></g>
<g id="I4-167"><circle cx="259.3" cy="3394.6"/></g>
<g id="I4-168"><circle cx="259.3" cy="3414.9"/></g>
<g id="I4-169"><circle cx="259.3" cy="3435.1"/></g>
<g id="I4-170"><circle cx="259.3" cy="3455.4"/></g>
<g id="I4-171"><circle cx="259.3" cy="3475.7"/></g>
<g id="I4-172"><circle cx="259.3" cy="3495.9"/></g>
<g id="I5-157"><circle cx="292.7" cy="3191.9"/></g>
<g id="I5-158"><circle cx="292.7" cy="3212.2"/></g>
<g id="I4a-173"><circle cx="243.3" cy="3516.2"/></g>
<g id="I4a-174"><circle cx="243.3" cy="3536.5"/></g>
<g id="I4a-175"><circle cx="243.3" cy="3556.7"/></g>
<g id="I4a-176"><circle cx="243.3" cy="3577"/></g>
<g id="I4a-177"><circle cx="243.3" cy="3597.3"/></g>
<g id="I4a-178"><circle cx="243.3" cy="3617.5"/></g>
<g id="I4a-179"><circle cx="243.3" cy="3637.8"/></g>
<g id="I4a-180"><circle cx="243.3" cy="3658.1"/></g>
<g id="I4a-181"><circle cx="243.3" cy="3678.3"/></g>
<g id="I4a-182"><circle cx="243.3" cy="3698.6"/></g>
<g id="I4a-183"><circle cx="243.3" cy="3718.9"/></g>
<g id="I4a-184"><circle cx="243.3" cy="3739.1"/></g>
<g id="I4a-185"><circle cx="243.3" cy="3759.4"/></g>
<g id="I4a-186"><circle cx="243.3" cy="3779.7"/></g>
<g id="I4a-187"><circle cx="243.3" cy="3799.9"/></g>
<g id="I4a-188"><circle cx="243.3" cy="3820.2"/></g>
<g id="I4a-189"><circle cx="243.3" cy="3840.5"/></g>
<g id="I4a-190"><circle cx="243.3" cy="3860.7"/></g>
<g id="I4a-191"><circle cx="243.3" cy="3881"/></g>
<g id="I4a-192"><circle cx="243.3" cy="3901.3"/></g>
<g id="I4a-193"><circle cx="243.3" cy="3921.5"/></g>
<g id="I4a-194"><circle cx="243.3" cy="3941.8"/></g>
<g id="I4a-195"><circle cx="243.3" cy="3962.1"/></g>
<g id="I4a-196"><circle cx="243.3" cy="3982.3"/></g>
<g id="I4a-197"><circle cx="243.3" cy="4002.6"/></g>
<g id="I4a-198"><circle cx="243.3" cy="4022.9"/></g>
<g id="I4a-199"><circle cx="243.3" cy="4043.1"/></g>
<g id="I4a-200"><circle cx="243.3" cy="4063.4"/></g>
<g id="I4b-173"><circle cx="276.7" cy="3516.2"/></g>
<g id="I4b-174"><circle cx="276.7" cy="3536.5"/></g>
<g id="I4b-175"><circle cx="276.7" cy="3556.7"/></g>
<g id="I4b-176"><circle cx="276.7" cy="3577"/></g>
<g id="I4b-177"><circle cx="276.7" cy="3597.3"/></g>
<g id="I4b-178"><circle cx="276.7" cy="3617.5"/></g>
<g id="I4b-179"><circle cx="276.7" cy="3637.8"/></g>
<g id="I4b-180"><circle cx="276.7" cy="3658.1"/></g>
<g id="I4b-181"><circle cx="276.7" cy="3678.3"/></g>
<g id="I4b-182"><circle cx="276.7" cy="3698.6"/></g>
<g id="I4b-183"><circle cx="276.7" cy="3718.9"/></g>
<g id="I4b-184"><circle cx="276.7" cy="3739.1"/></g>
<g id="I4b-185"><circle cx="276.7" cy="3759.4"/></g>
<g id="I4b-186"><circle cx="276.7" cy="3779.7"/></g>
<g id="I4b-187"><circle cx="276.7" cy="3799.9"/></g>
<g id="I4b-188"><circle cx="276.7" cy="3820.2"/></g>
<g id="I4b-189"><circle cx="276.7" cy="3840.5"/></g>
<g id="I4b-190"><circle cx="276.7" cy="3860.7"/></g>
<g id="I4b-191"><circle cx="276.7" cy="3881"/></g>
<g id="I4b-192"><circle cx="276.7" cy="3901.3"/></g>
<g id="I4b-193"><circle cx="276.7" cy="3921.5"/></g>
<g id="I4b-194"><circle cx="276.7" cy="3941.8"/></g>
<g id="I4b-195"><circle cx="276.7" cy="3962.1"/></g>
<g id="I4b-196"><circle cx="276.7" cy="3982.3"/></g>
<g id="I4b-197"><circle cx="276.7" cy="4002.6"/></g>
<g id="I4b-198"><circle cx="276.7" cy="4022.9"/></g>
<g id="I4b-199"><circle cx="276.7" cy="4043.1"/></g>
<g id="I4b-200"><circle cx="276.7" cy="4063.4"/></g>
<g id="I4c-185"><circle cx="210" cy="3759.4"/></g>
<g id="I4c-186"><circle cx="210" cy="3779.7"/></g>
<g id="J-127"><circle cx="111.3" cy="2583.9"/></g>
<g id="J-128"><circle cx="111.3" cy="2604.2"/></g>
<g id="J-129"><circle cx="111.3" cy="2624.4"/></g>
<g id="J-130"><circle cx="111.3" cy="2644.7"/></g>
<g id="J-131"><circle cx="111.3" cy="2665"/></g>
<g id="J-132"><circle cx="110" cy="2685.2"/></g>
<g id="J-133"><circle cx="110" cy="2705.5"/></g>
<g id="J-134"><circle cx="110" cy="2725.8"/></g>
<g id="J-135"><circle cx="110" cy="2746"/></g>
<g id="J-136"><circle cx="110" cy="2766.3"/></g>
<g id="J-137"><circle cx="110" cy="2786.6"/></g>
<g id="J-138"><circle cx="110" cy="2806.8"/></g>
<g id="J-139"><circle cx="110" cy="2827.1"/></g>
<g id="J-140"><circle cx="110" cy="2847.4"/></g>
<g id="J-141"><circle cx="110" cy="2867.6"/></g>
<g id="J-142"><circle cx="110" cy="2887.9"/></g>
<g id="J-143"><circle cx="110" cy="2908.2"/></g>
<g id="J-144"><circle cx="110" cy="2928.4"/></g>
<g id="J-145"><circle cx="110" cy="2948.7"/></g>
<g id="J-146"><circle cx="110" cy="2969"/></g>
<g id="J-147"><circle cx="110" cy="2989.2"/></g>
<g id="J-148"><circle cx="110" cy="3009.5"/></g>
<g id="J-149"><circle cx="110" cy="3029.8"/></g>
<g id="J-150"><circle cx="110" cy="3050"/></g>
<g id="J-151"><circle cx="110" cy="3070.3"/></g>
<g id="J-152"><circle cx="110" cy="3090.6"/></g>
<g id="J1-133"><circle cx="76.7" cy="2705.5"/></g>
<g id="J1-134"><circle cx="76.7" cy="2725.8"/></g>
<g id="J1-135"><circle cx="76.7" cy="2746"/></g>
<g id="J1-136"><circle cx="76.7" cy="2766.3"/></g>
<g id="J1-137"><circle cx="76.7" cy="2786.6"/></g>
<g id="J1-138"><circle cx="76.7" cy="2806.8"/></g>
<g id="J1-139"><circle cx="76.7" cy="2827.1"/></g>
<g id="J1-140"><circle cx="76.7" cy="2847.4"/></g>
<g id="J1-141"><circle cx="76.7" cy="2867.6"/></g>
<g id="J1-142"><circle cx="76.7" cy="2887.9"/></g>
<g id="J1-143"><circle cx="76.7" cy="2908.2"/></g>
<g id="J1-144"><circle cx="76.7" cy="2928.4"/></g>
<g id="J2-141"><circle cx="43.3" cy="2867.6"/></g>
<g id="J2-142"><circle cx="43.3" cy="2887.9"/></g>
<g id="J2-143"><circle cx="43.3" cy="2908.2"/></g>
<g id="J2-144"><circle cx="43.3" cy="2928.4"/></g>
<g id="J3-153"><circle cx="94" cy="3110.8"/></g>
<g id="J3-154"><circle cx="94" cy="3131.1"/></g>
<g id="J3-155"><circle cx="94" cy="3151.4"/></g>
<g id="J3-156"><circle cx="94" cy="3171.7"/></g>
<g id="J3-157"><circle cx="94" cy="3191.9"/></g>
<g id="J3-158"><circle cx="94" cy="3212.2"/></g>
<g id="J3-159"><circle cx="94" cy="3232.5"/></g>
<g id="J3-160"><circle cx="94" cy="3252.7"/></g>
<g id="J3-161"><circle cx="94" cy="3273"/></g>
<g id="J3-162"><circle cx="94" cy="3293.3"/></g>
<g id="J4-153"><circle cx="127.3" cy="3110.8"/></g>
<g id="J4-154"><circle cx="127.3" cy="3131.1"/></g>
<g id="J4-155"><circle cx="127.3" cy="3151.4"/></g>
<g id="J4-156"><circle cx="127.3" cy="3171.7"/></g>
<g id="J5-155"><circle cx="160.7" cy="3151.4"/></g>
<g id="J5-156"><circle cx="160.7" cy="3171.7"/></g>
<g id="K-143"><circle cx="176.7" cy="2908.2"/></g>
<g id="K-144"><circle cx="176.7" cy="2928.4"/></g>
<g id="K-145"><circle cx="176.7" cy="2948.7"/></g>
<g id="K-146"><circle cx="176.7" cy="2969"/></g>
</g>
</svg>
